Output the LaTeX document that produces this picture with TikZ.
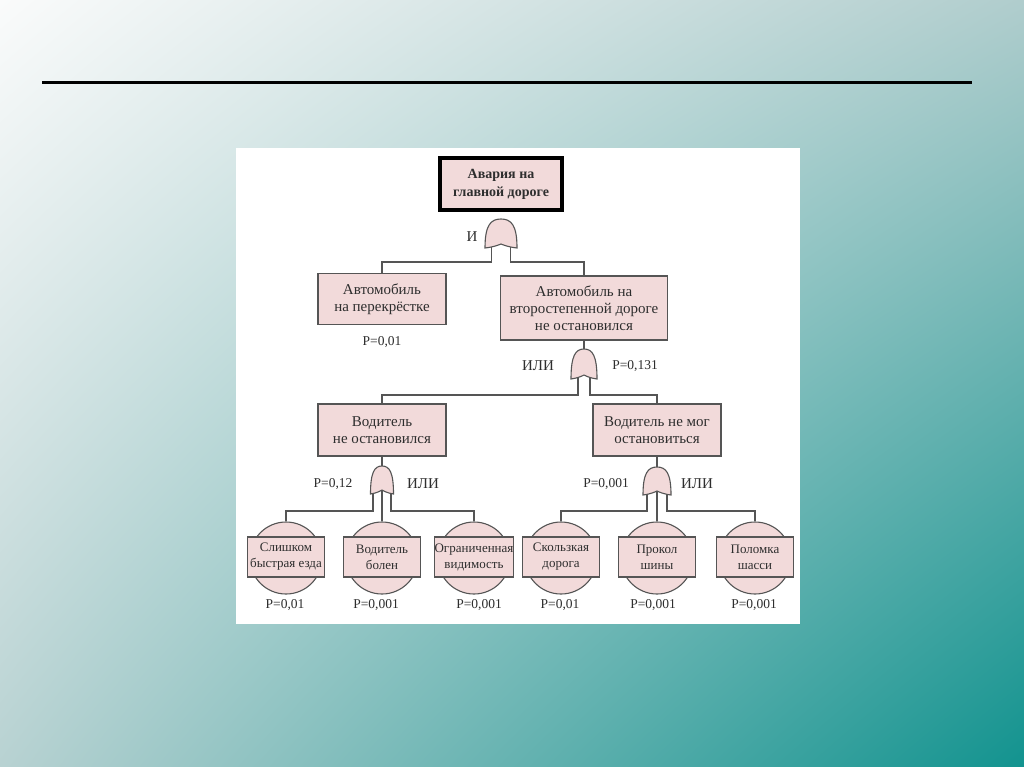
\documentclass[tikz,border=0pt]{standalone}
\usepackage{fontspec}
\setmainfont{Liberation Serif}
\usetikzlibrary{shadings}
\pgfdeclarelayer{bgl}
\pgfdeclarelayer{lines}
\pgfsetlayers{bgl,lines,main}
\definecolor{pinkf}{HTML}{F2DADA}
\definecolor{edge}{HTML}{555555}
\definecolor{txt}{HTML}{2E2E2E}
\definecolor{ctl}{HTML}{FAFBFB}
\definecolor{ctr}{HTML}{B0CDCD}
\definecolor{cbl}{HTML}{B8D2D2}
\definecolor{cbr}{HTML}{12938F}
\tikzset{
 box/.style={draw=edge, line width=1.1pt, fill=pinkf, align=center, text=txt,
   font=\fontsize{15}{17}\selectfont, inner sep=0pt},
 topbox/.style={draw=black, line width=4pt, fill=pinkf, align=center, text=txt,
   font=\bfseries\fontsize{14}{18}\selectfont, inner sep=0pt,
   minimum width=122pt, minimum height=52pt},
 evrect/.style={box, font=\fontsize{13}{16}\selectfont, minimum width=77pt, minimum height=40pt},
 evcirc/.style={circle, draw=edge, line width=1.1pt, fill=pinkf, minimum size=72pt, inner sep=0pt},
 conn/.style={draw=edge, line width=1.3pt},
 lbl/.style={text=txt, font=\fontsize{15}{15}\selectfont, inner sep=0pt},
 plbl/.style={text=txt, font=\fontsize{13.5}{14}\selectfont, inner sep=0pt},
 pics/gate/.style n args={3}{code={
   \path[draw=edge, line width=1.1pt, fill=pinkf]
     (-#1,#2) .. controls (-#1,0.22*#2) and (-0.65*#1,0) .. (0,0)
     .. controls (0.65*#1,0) and (#1,0.22*#2) .. (#1,#2)
     .. controls (0.45*#1,#2-1) and (0.15*#1,#2-3) .. (0,#2-4)
     .. controls (-0.15*#1,#2-3) and (-0.45*#1,#2-1) .. (-#1,#2) -- cycle;
   \coordinate (-top) at (0,0);
   \coordinate (-l) at (-#3,#2-3);
   \coordinate (-r) at (#3,#2-3);
   \coordinate (-m) at (0,#2-4);
 }},
}
\begin{document}
\begin{tikzpicture}[x=1pt,y=-1pt]
\begin{pgfonlayer}{bgl}
\shade[upper left=ctl, upper right=ctr, lower left=cbl, lower right=cbr] (0,0) rectangle (1024,767);
\fill[white] (236,148) rectangle (800,624);
\draw[black, line width=3pt] (42,83) -- (972,83);
\end{pgfonlayer}
\useasboundingbox (0,0) rectangle (1024,767);

\node[topbox] (top) at (501,184) {Авария на\\главной дороге};
\pic (g1) at (501,219) {gate={16}{29}{9.5}};
\node[lbl] (li) at (472,237) {И};

\node[box, minimum width=128pt, minimum height=51pt] (a) at (382,299) {Автомобиль\\на перекрёстке};
\node[box, minimum width=167pt, minimum height=64pt] (b) at (584,308) {Автомобиль на\\второстепенной дороге\\не остановился};
\node[plbl] (pa) at (382,342) {P=0,01};

\pic (g2) at (584,349) {gate={13}{30}{6}};
\node[lbl] (l2) at (538,366) {ИЛИ};
\node[plbl] (p2) at (635,366) {P=0,131};

\node[box, minimum width=128pt, minimum height=52pt] (c) at (382,430) {Водитель\\не остановился};
\node[box, minimum width=128pt, minimum height=52pt] (d) at (657,430) {Водитель не мог\\остановиться};

\pic (g3) at (382,466) {gate={11.5}{28}{9}};
\node[plbl] (p3) at (333,484) {P=0,12};
\node[lbl] (l3) at (423,484) {ИЛИ};
\pic (g4) at (657,467) {gate={14}{28}{10}};
\node[plbl] (p4) at (606,484) {P=0,001};
\node[lbl] (l4) at (697,484) {ИЛИ};

\node[evcirc] (c1) at (286,558) {};
\node[evrect] (e1) at (286,557) {Слишком\\быстрая езда};
\node[evcirc] (c2) at (382,558) {};
\node[evrect] (e2) at (382,557) {Водитель\\болен};
\node[evcirc] (c3) at (474,558) {};
\node[evrect] (e3) at (474,557) {Ограниченная\\видимость};
\node[evcirc] (c4) at (561,558) {};
\node[evrect] (e4) at (561,557) {Скользкая\\дорога};
\node[evcirc] (c5) at (657,558) {};
\node[evrect] (e5) at (657,557) {Прокол\\шины};
\node[evcirc] (c6) at (755,558) {};
\node[evrect] (e6) at (755,557) {Поломка\\шасси};

\node[plbl] (q1) at (285,605) {P=0,01};
\node[plbl] (q2) at (376,605) {P=0,001};
\node[plbl] (q3) at (479,605) {P=0,001};
\node[plbl] (q4) at (560,605) {P=0,01};
\node[plbl] (q5) at (653,605) {P=0,001};
\node[plbl] (q6) at (754,605) {P=0,001};

\begin{pgfonlayer}{lines}
\draw[conn] (g1-l) -- ++(0,17) -| (a.north);
\draw[conn] (g1-r) -- ++(0,17) -| (b.north);
\draw[conn] (b.south) -- (g2-top);
\draw[conn] (g2-l) -- ++(0,19) -| (c.north);
\draw[conn] (g2-r) -- ++(0,19) -| (d.north);
\draw[conn] (c.south) -- (g3-top);
\draw[conn] (d.south) -- (g4-top);
\draw[conn] (g3-l) -- ++(0,20) -| (c1.north);
\draw[conn] (g3-m) -- (c2.north);
\draw[conn] (g3-r) -- ++(0,20) -| (c3.north);
\draw[conn] (g4-l) -- ++(0,19) -| (c4.north);
\draw[conn] (g4-m) -- (c5.north);
\draw[conn] (g4-r) -- ++(0,19) -| (c6.north);
\end{pgfonlayer}
\end{tikzpicture}
\end{document}
